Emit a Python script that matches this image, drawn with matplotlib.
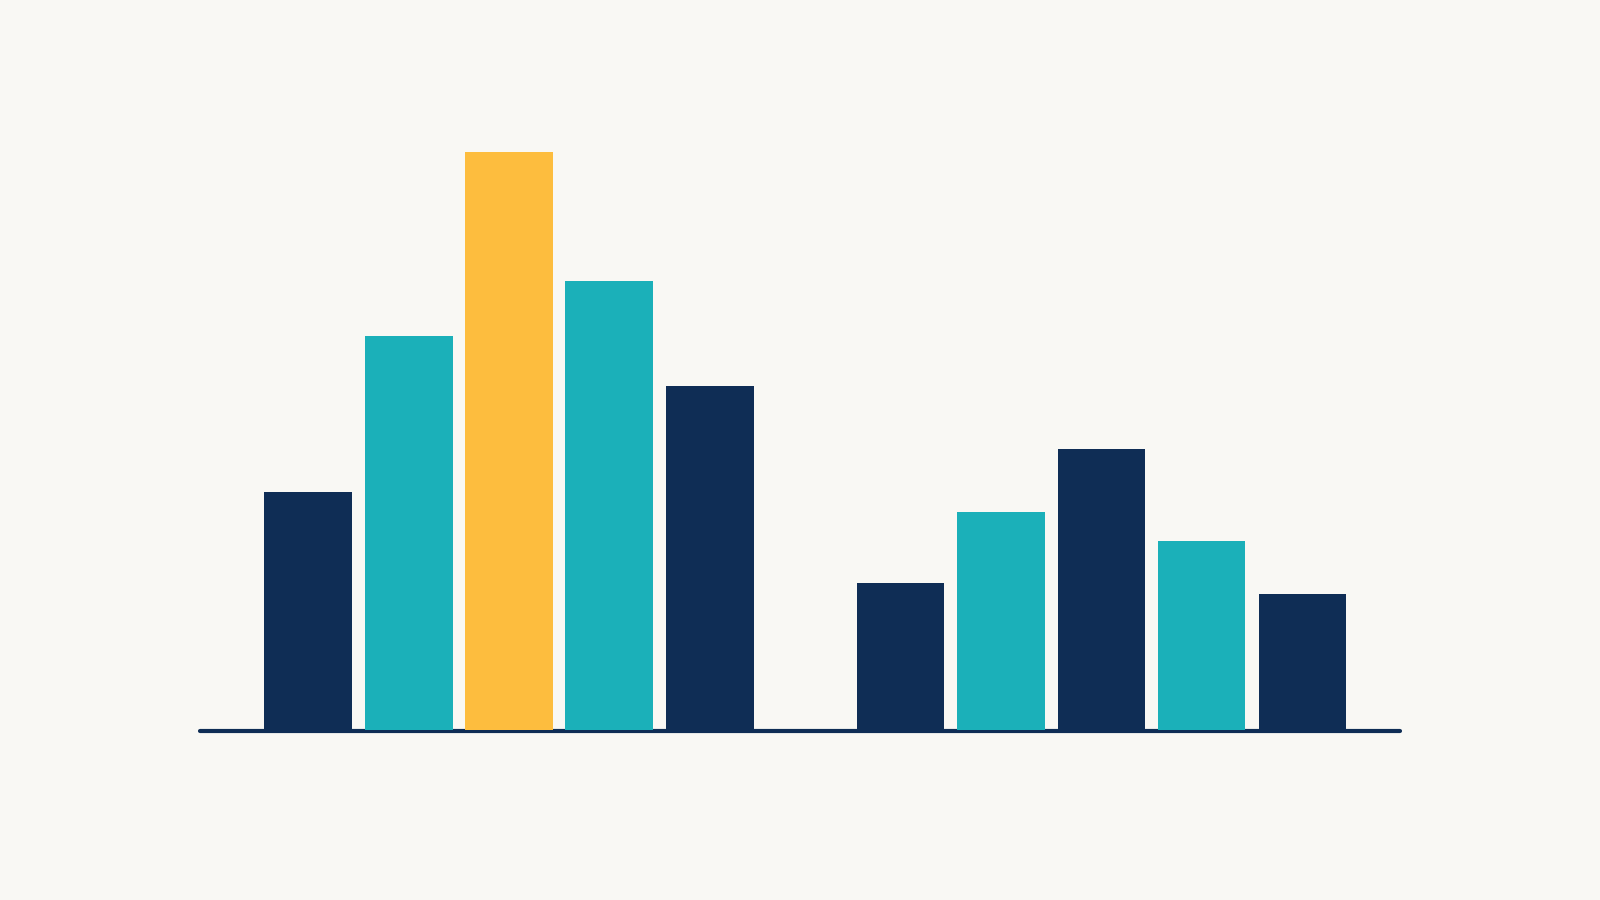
import matplotlib
matplotlib.use("Agg")
import matplotlib.pyplot as plt

# Data
group1_values = [233, 386, 566, 440, 337]
group2_values = [144, 213, 275, 185, 133]
group1_pos = [0, 1, 2, 3, 4]
group2_pos = [5.9, 6.9, 7.9, 8.9, 9.9]
navy, teal, yellow = "#0f2d55", "#1bb0b9", "#fdbd3e"
group1_colors = [navy, teal, yellow, teal, navy]
group2_colors = [navy, teal, navy, teal, navy]

bg = "#f9f8f4"
fig = plt.figure(figsize=(16, 9), dpi=100, facecolor=bg)
W, H = 1568.0, 882.0
left = 195 / W
right = 1373 / W
bottom = 1 - 715 / H
top = 1 - 149 / H
ax = fig.add_axes([left, bottom, right - left, top - bottom])
ax.set_facecolor("none")

ax.bar(group1_pos, group1_values, width=0.875, color=group1_colors, zorder=3)
ax.bar(group2_pos, group2_values, width=0.87, color=group2_colors, zorder=3)

x0 = (195 - 302) / 98.4
x1 = (1373 - 302) / 98.4
ax.set_xlim(x0, x1)
ax.set_ylim(0, 566)
ax.plot([x0 + 0.01, x1 - 0.01], [-1.5, -1.5], color=navy, lw=3.0,
        solid_capstyle="round", zorder=2, clip_on=False)

for s in ax.spines.values():
    s.set_visible(False)
ax.set_xticks([])
ax.set_yticks([])

fig.savefig("out.png", dpi=100, facecolor=bg)
